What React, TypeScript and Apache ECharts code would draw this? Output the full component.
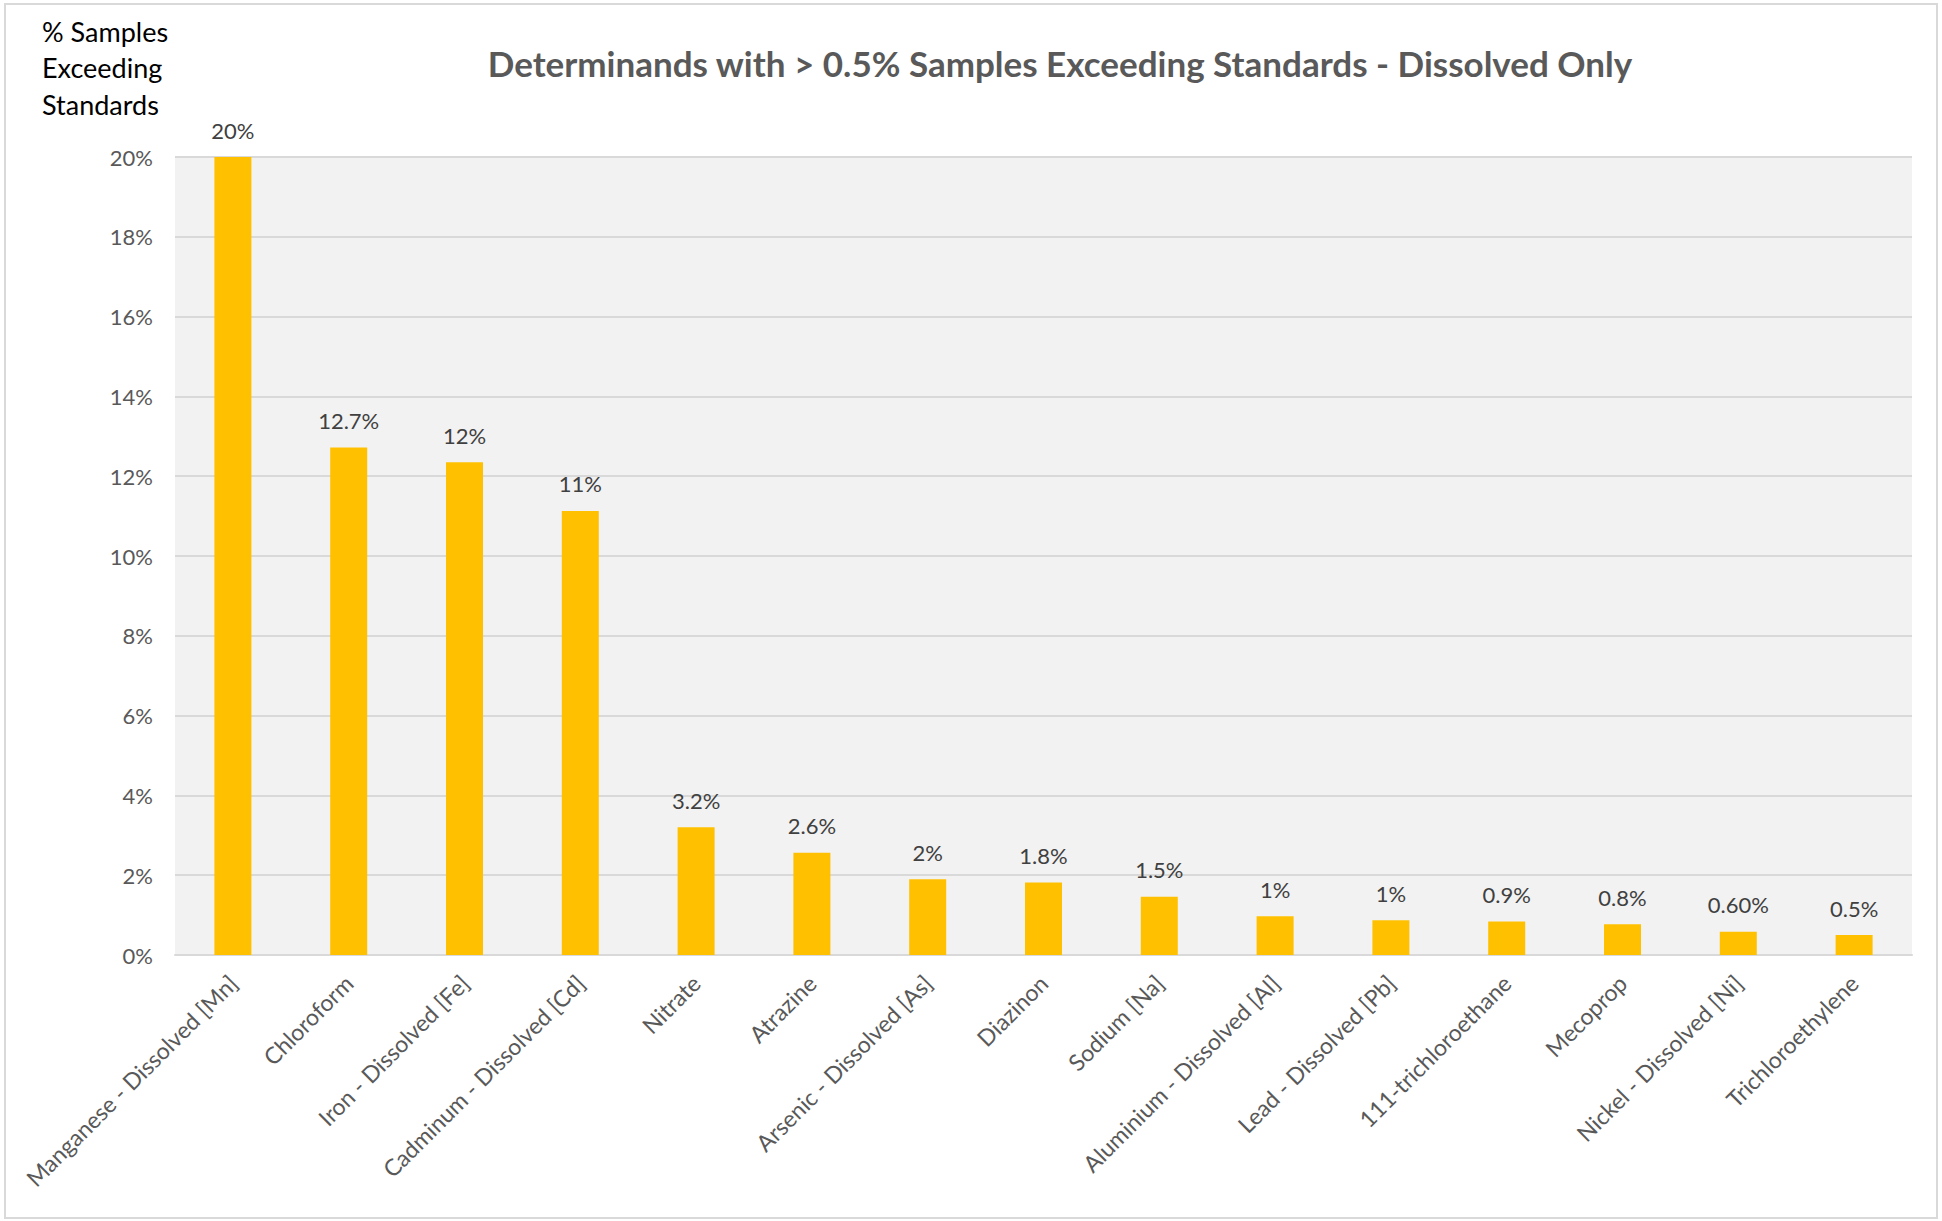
import React, { useEffect, useRef } from "react";
import * as echarts from "echarts";

const categories = [
  "Manganese - Dissolved [Mn]",
  "Chloroform",
  "Iron - Dissolved [Fe]",
  "Cadminum - Dissolved [Cd]",
  "Nitrate",
  "Atrazine",
  "Arsenic - Dissolved [As]",
  "Diazinon",
  "Sodium [Na]",
  "Aluminium - Dissolved [Al]",
  "Lead - Dissolved [Pb]",
  "111-trichloroethane",
  "Mecoprop",
  "Nickel - Dissolved [Ni]",
  "Trichloroethylene",
];

const values = [20, 12.72, 12.35, 11.13, 3.2, 2.56, 1.9, 1.82, 1.46, 0.97, 0.87, 0.84, 0.77, 0.58, 0.5];

const valueLabels = [
  "20%", "12.7%", "12%", "11%", "3.2%", "2.6%", "2%", "1.8%", "1.5%", "1%", "1%", "0.9%", "0.8%", "0.60%", "0.5%",
];

const chartTitle = "Determinands with > 0.5% Samples Exceeding Standards - Dissolved Only";
const yAxisTitle = "% Samples\nExceeding\nStandards";

const FONT = "Lato, 'Open Sans', sans-serif";

export default function App() {
  const ref = useRef<HTMLDivElement>(null);

  useEffect(() => {
    if (!ref.current) return;
    const chart = echarts.init(ref.current, undefined, { renderer: "svg" });
    chart.setOption({
      animation: false,
      backgroundColor: "#ffffff",
      textStyle: { fontFamily: FONT },
      title: {
        text: chartTitle,
        left: 1055,
        top: 40,
        textAlign: "center",
        textStyle: {
          fontFamily: FONT,
          fontSize: 35,
          fontWeight: "bold",
          color: "#595959",
        },
      },
      graphic: [
        {
          type: "rect",
          shape: { x: 5, y: 4, width: 1932, height: 1214 },
          style: { fill: "none", stroke: "#d9d9d9", lineWidth: 2 },
          silent: true,
        },
        {
          type: "text",
          x: 42,
          y: 13,
          style: {
            text: yAxisTitle,
            fontFamily: FONT,
            fontSize: 27,
            lineHeight: 36.5,
            fill: "#000000",
            textAlign: "left",
            textVerticalAlign: "top",
          },
        },
      ],
      grid: {
        left: 175,
        right: 30,
        top: 157,
        bottom: 266,
        containLabel: false,
        show: true,
        backgroundColor: "#f2f2f2",
        borderWidth: 0,
      },
      xAxis: {
        type: "category",
        data: categories,
        axisTick: { show: false },
        axisLine: { lineStyle: { color: "#d9d9d9", width: 2 } },
        axisLabel: {
          interval: 0,
          rotate: 45,
          margin: 24,
          color: "#595959",
          fontSize: 23,
          fontFamily: FONT,
        },
      },
      yAxis: {
        type: "value",
        min: 0,
        max: 20,
        interval: 2,
        axisLine: { show: false },
        axisTick: { show: false },
        splitLine: { lineStyle: { color: "#d9d9d9", width: 2 } },
        axisLabel: {
          formatter: "{value}%",
          margin: 22,
          color: "#595959",
          fontSize: 22,
          fontFamily: FONT,
        },
      },
      series: [
        {
          type: "bar",
          data: values,
          barWidth: 37,
          itemStyle: { color: "#ffc000" },
          label: {
            show: true,
            position: "top",
            distance: 16,
            color: "#404040",
            fontSize: 22,
            fontFamily: FONT,
            formatter: (p: any) => valueLabels[p.dataIndex],
          },
        },
      ],
    });
    return () => chart.dispose();
  }, []);

  return (
    <div
      ref={ref}
      style={{ position: "absolute", left: 0, top: 0, width: 1942, height: 1221 }}
    />
  );
}
